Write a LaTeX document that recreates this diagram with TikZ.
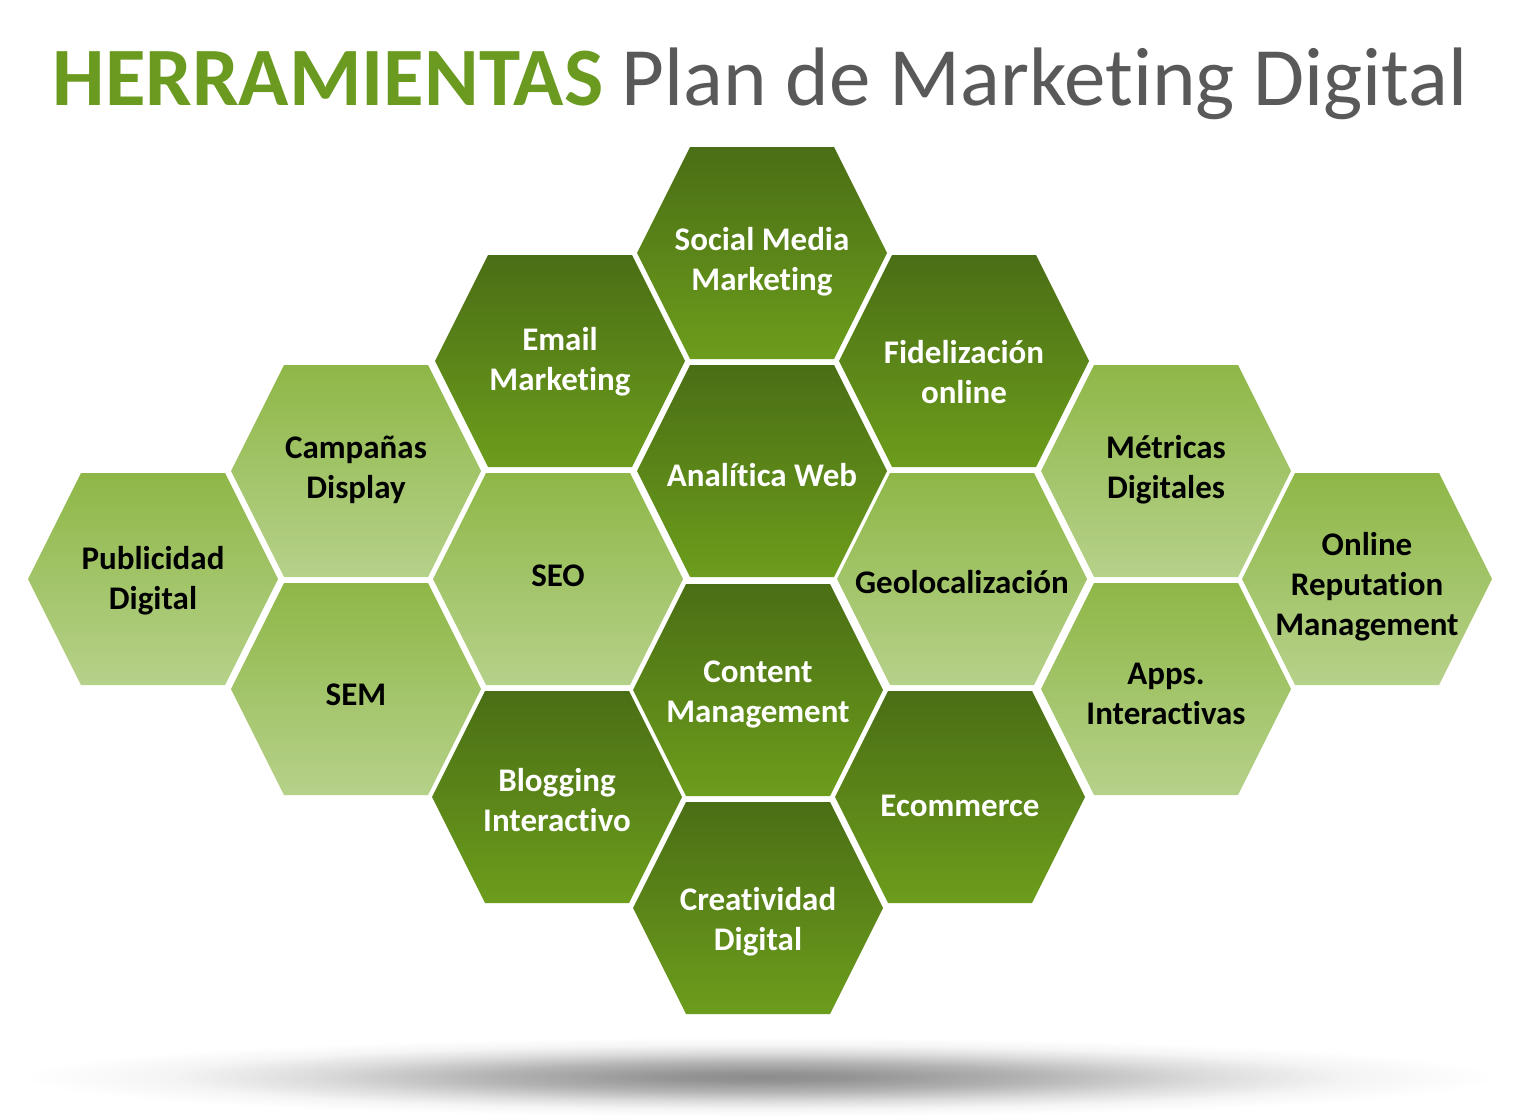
\documentclass[tikz,border=0pt]{standalone}
\usepackage{fontspec}
\setmainfont{Carlito}[Ligatures={NoCommon,NoContextual}]
\definecolor{dtop}{HTML}{4A6E15}
\definecolor{dbot}{HTML}{6C9D1C}
\definecolor{ltop}{HTML}{8EB747}
\definecolor{lbot}{HTML}{B6D18A}
\definecolor{titgreen}{HTML}{6A9A1F}
\definecolor{titgray}{HTML}{595959}
\pgfdeclareradialshading{floorshadow}{\pgfpoint{0bp}{0bp}}{%
  color(0bp)=(black!45); color(3bp)=(black!42); color(9bp)=(black!30);
  color(15bp)=(black!14); color(20bp)=(black!4); color(25bp)=(white); color(50bp)=(white)}
\tikzset{
  darkhex/.style={top color=dtop, bottom color=dbot, draw=none},
  lighthex/.style={top color=ltop, bottom color=lbot, draw=none},
  hextxt/.style={font=\fontsize{33}{40}\selectfont\bfseries, align=center, inner sep=0pt},
  darkhextxt/.style={hextxt, text=white},
  lighthextxt/.style={hextxt, text=black},
}
% #1 x, #2 y, #3 dark/light, #4 name, #5 text y offset, #6 text
\newcommand{\hexcell}[6]{%
  \begin{scope}[shift={(#1,#2)}]
    \shade[#3hex] (-125,0) -- (-72,-106) -- (72,-106) -- (125,0) -- (72,106) -- (-72,106) -- cycle;
  \end{scope}
  \node[#3hextxt] (#4) at (#1,#2+#5+2) {#6};
}
\begin{document}
\begin{tikzpicture}[x=1pt,y=-1pt]
\useasboundingbox (0,0) rectangle (1520,1116);
\fill[white] (0,0) rectangle (1520,1116);
% floor shadow
\shade[shading=floorshadow] (760,1077) ellipse (740 and 40);
% title
\node[anchor=base, inner sep=0pt, font=\fontsize{83}{100}\selectfont] (title) at (760,105)
  {\textcolor{titgreen}{\bfseries HERRAMIENTAS} \textcolor{titgray}{Plan de Marketing Digital}};
% column 0
\hexcell{153}{579}{light}{publicidad}{0}{Publicidad\\Digital}
% column 1
\hexcell{356}{471}{light}{campanas}{-3}{Campañas\\Display}
\hexcell{356}{689}{light}{sem}{4}{SEM}
% column 2
\hexcell{560}{361}{dark}{email}{-1}{Email\\Marketing}
\hexcell{558}{579}{light}{seo}{-5}{SEO}
\hexcell{557}{797}{dark}{blogging}{1}{Blogging\\Interactivo}
% column 3
\hexcell{762}{253}{dark}{social}{7}{Social Media\\Marketing}
\hexcell{762}{471}{dark}{analitica}{2}{Analítica Web}
\hexcell{758}{690}{dark}{content}{2}{Content\\Management}
\hexcell{758}{908}{dark}{creatividad}{12}{Creatividad\\Digital}
% column 4
\hexcell{964}{361}{dark}{fidelizacion}{9}{Fidelización\\online}
\hexcell{962}{579}{light}{geo}{1}{Geolocalización}
\hexcell{960}{797}{dark}{ecommerce}{7}{Ecommerce}
% column 5
\hexcell{1166}{471}{light}{metricas}{-3}{Métricas\\Digitales}
\hexcell{1166}{689}{light}{apps}{3}{Apps.\\Interactivas}
% column 6
\hexcell{1367}{579}{light}{online}{6}{Online\\Reputation\\Management}
\end{tikzpicture}
\end{document}
